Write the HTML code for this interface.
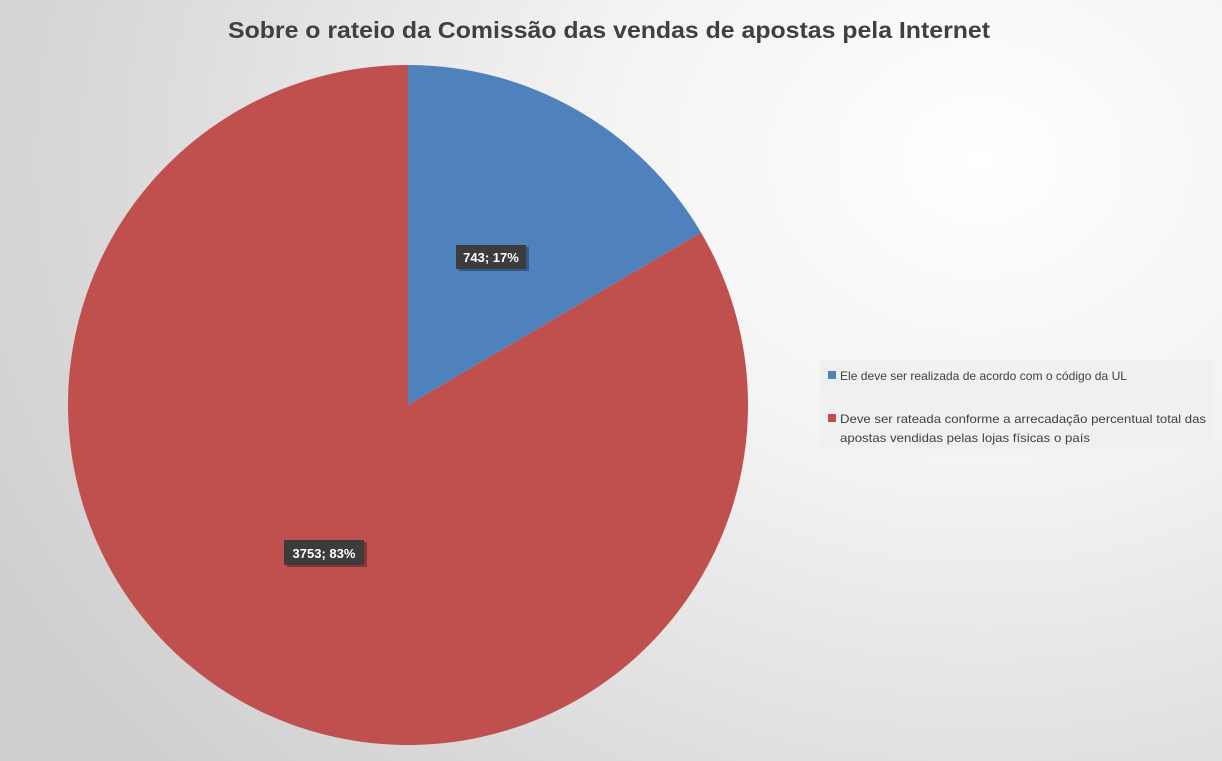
<!DOCTYPE html>
<html><head><meta charset="utf-8"><style>
html,body{margin:0;padding:0;width:1222px;height:761px;overflow:hidden}
body{background:radial-gradient(ellipse 1100px 900px at 980px 160px,#ffffff 0%,#f3f3f3 35%,#dcdcdc 75%,#cfcfcf 100%);font-family:"Liberation Sans",sans-serif}
</style></head><body>
<svg width="1222" height="761" xmlns="http://www.w3.org/2000/svg" style="position:absolute;left:0;top:0">
<text x="609" y="38" text-anchor="middle" font-family="Liberation Sans, sans-serif" font-weight="bold" font-size="23" fill="#404040" textLength="762" lengthAdjust="spacingAndGlyphs">Sobre o rateio da Comissão das vendas de apostas pela Internet</text>
<path d="M408,405 L408,65 A340,340 0 0 1 701,232.5 Z" fill="#4f81bd"/>
<path d="M408,405 L701,232.5 A340,340 0 1 1 408,65 Z" fill="#c0504d"/>
<rect x="459" y="247" width="70" height="24" fill="#000" opacity="0.3"/>
<rect x="456" y="245" width="70" height="24" fill="#3c3c3c"/>
<text x="491" y="262" text-anchor="middle" font-family="Liberation Sans, sans-serif" font-weight="bold" font-size="13" fill="#fff">743; 17%</text>
<rect x="287" y="542" width="80" height="25" fill="#000" opacity="0.3"/>
<rect x="284" y="540" width="80" height="25" fill="#3c3c3c"/>
<text x="324" y="558" text-anchor="middle" font-family="Liberation Sans, sans-serif" font-weight="bold" font-size="13" fill="#fff">3753; 83%</text>
<rect x="820" y="360" width="393" height="89" fill="#efefef" opacity="0.8"/>
<rect x="828" y="371" width="8" height="8" fill="#4f81bd"/>
<text x="840" y="380" font-family="Liberation Sans, sans-serif" font-size="12" fill="#404040" textLength="287" lengthAdjust="spacingAndGlyphs">Ele deve ser realizada de acordo com o código da UL</text>
<rect x="828" y="414" width="8" height="8" fill="#c0504d"/>
<text x="840" y="423" font-family="Liberation Sans, sans-serif" font-size="12" fill="#404040" textLength="366" lengthAdjust="spacingAndGlyphs">Deve ser rateada conforme a arrecadação percentual total das</text>
<text x="840" y="442" font-family="Liberation Sans, sans-serif" font-size="12" fill="#404040" textLength="250" lengthAdjust="spacingAndGlyphs">apostas vendidas pelas lojas físicas o país</text>
</svg>
</body></html>
